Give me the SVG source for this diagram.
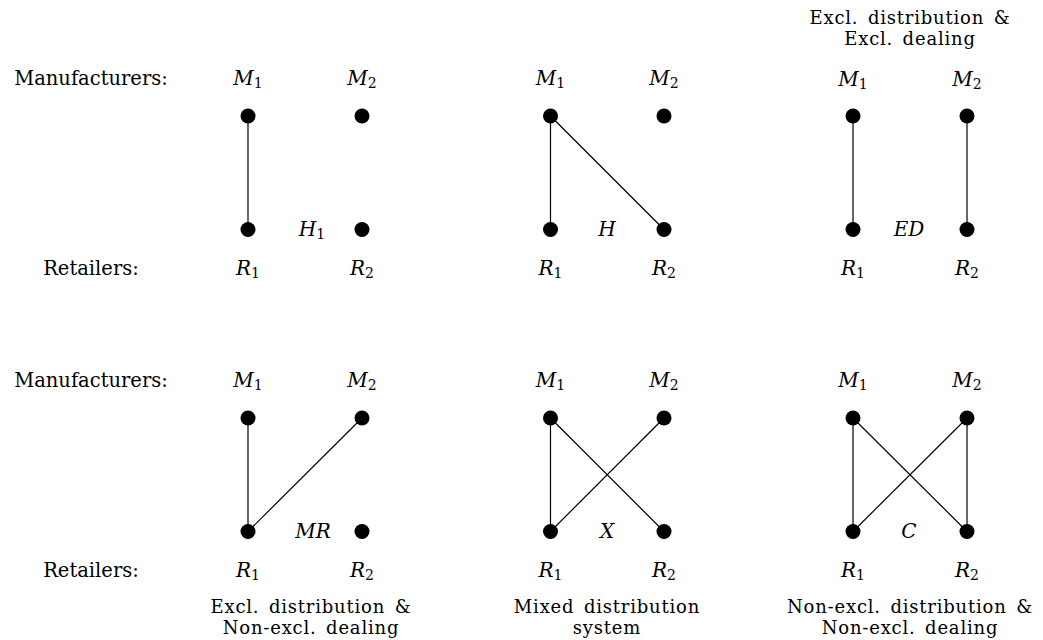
<svg xmlns="http://www.w3.org/2000/svg" width="1043" height="640" viewBox="0 0 1043 640">
<style>
  .t { font-family: "DejaVu Serif", "Liberation Serif", serif; font-size: 19.5px; fill: #000; text-anchor: middle; }
  .c { font-family: "DejaVu Serif", "Liberation Serif", serif; font-size: 18px; letter-spacing: 0.8px; word-spacing: 3px; fill: #000; text-anchor: middle; }
  .m { font-family: "DejaVu Serif", "Liberation Serif", serif; font-style: italic; font-size: 20px; fill: #000; text-anchor: middle; }
  .s { font-style: normal; font-size: 14px; }
  .e { stroke: #000; stroke-width: 1.2; fill: none; }
  .d { fill: #000; }
</style>
<rect width="1043" height="640" fill="#fff"/>

<g id="row-labels">
  <text class="t" x="91" y="85">Manufacturers:</text>
  <text class="t" x="91" y="275">Retailers:</text>
  <text class="t" x="91" y="387">Manufacturers:</text>
  <text class="t" x="91" y="577">Retailers:</text>
</g>

<g id="connectors">
  <line class="e" x1="248" y1="116" x2="248" y2="229.5"/>
  <line class="e" x1="550.5" y1="116" x2="550.5" y2="229.5"/>
  <line class="e" x1="550.5" y1="116" x2="664" y2="229.5"/>
  <line class="e" x1="853" y1="116" x2="853" y2="229.5"/>
  <line class="e" x1="967" y1="116" x2="967" y2="229.5"/>
  <line class="e" x1="248" y1="418" x2="248" y2="531.5"/>
  <line class="e" x1="362" y1="418" x2="248" y2="531.5"/>
  <line class="e" x1="550.5" y1="418" x2="550.5" y2="531.5"/>
  <line class="e" x1="550.5" y1="418" x2="664" y2="531.5"/>
  <line class="e" x1="664" y1="418" x2="550.5" y2="531.5"/>
  <line class="e" x1="853" y1="418" x2="853" y2="531.5"/>
  <line class="e" x1="853" y1="418" x2="967" y2="531.5"/>
  <line class="e" x1="967" y1="418" x2="853" y2="531.5"/>
  <line class="e" x1="967" y1="418" x2="967" y2="531.5"/>
</g>

<g id="panel-H1">
  <g id="H1-M1"><text class="m" x="248" y="85">M<tspan class="s" dy="3">1</tspan></text><circle class="d" cx="248" cy="116" r="7.5"/></g>
  <g id="H1-M2"><text class="m" x="362" y="85">M<tspan class="s" dy="3">2</tspan></text><circle class="d" cx="362" cy="116" r="7.5"/></g>
  <g id="H1-R1"><circle class="d" cx="248" cy="229.5" r="7.5"/><text class="m" x="248" y="275">R<tspan class="s" dy="3">1</tspan></text></g>
  <g id="H1-R2"><circle class="d" cx="362" cy="229.5" r="7.5"/><text class="m" x="362" y="275">R<tspan class="s" dy="3">2</tspan></text></g>
  <text class="m" x="312" y="236">H<tspan class="s" dy="3">1</tspan></text>
</g>

<g id="panel-H">
  <g id="H-M1"><text class="m" x="550.5" y="85">M<tspan class="s" dy="3">1</tspan></text><circle class="d" cx="550.5" cy="116" r="7.5"/></g>
  <g id="H-M2"><text class="m" x="664" y="85">M<tspan class="s" dy="3">2</tspan></text><circle class="d" cx="664" cy="116" r="7.5"/></g>
  <g id="H-R1"><circle class="d" cx="550.5" cy="229.5" r="7.5"/><text class="m" x="550.5" y="275">R<tspan class="s" dy="3">1</tspan></text></g>
  <g id="H-R2"><circle class="d" cx="664" cy="229.5" r="7.5"/><text class="m" x="664" y="275">R<tspan class="s" dy="3">2</tspan></text></g>
  <text class="m" x="607" y="236">H</text>
</g>

<g id="panel-ED">
  <text class="c" x="910" y="24">Excl. distribution &amp;</text>
  <text class="c" x="910" y="45">Excl. dealing</text>
  <g id="ED-M1"><text class="m" x="853" y="86">M<tspan class="s" dy="3">1</tspan></text><circle class="d" cx="853" cy="116" r="7.5"/></g>
  <g id="ED-M2"><text class="m" x="967" y="86">M<tspan class="s" dy="3">2</tspan></text><circle class="d" cx="967" cy="116" r="7.5"/></g>
  <g id="ED-R1"><circle class="d" cx="853" cy="229.5" r="7.5"/><text class="m" x="853" y="275">R<tspan class="s" dy="3">1</tspan></text></g>
  <g id="ED-R2"><circle class="d" cx="967" cy="229.5" r="7.5"/><text class="m" x="967" y="275">R<tspan class="s" dy="3">2</tspan></text></g>
  <text class="m" x="909" y="236">ED</text>
</g>

<g id="panel-MR">
  <g id="MR-M1"><text class="m" x="248" y="387">M<tspan class="s" dy="3">1</tspan></text><circle class="d" cx="248" cy="418" r="7.5"/></g>
  <g id="MR-M2"><text class="m" x="362" y="387">M<tspan class="s" dy="3">2</tspan></text><circle class="d" cx="362" cy="418" r="7.5"/></g>
  <g id="MR-R1"><circle class="d" cx="248" cy="531.5" r="7.5"/><text class="m" x="248" y="577">R<tspan class="s" dy="3">1</tspan></text></g>
  <g id="MR-R2"><circle class="d" cx="362" cy="531.5" r="7.5"/><text class="m" x="362" y="577">R<tspan class="s" dy="3">2</tspan></text></g>
  <text class="m" x="313" y="538">MR</text>
  <text class="c" x="311" y="613">Excl. distribution &amp;</text>
  <text class="c" x="311" y="634">Non-excl. dealing</text>
</g>

<g id="panel-X">
  <g id="X-M1"><text class="m" x="550.5" y="387">M<tspan class="s" dy="3">1</tspan></text><circle class="d" cx="550.5" cy="418" r="7.5"/></g>
  <g id="X-M2"><text class="m" x="664" y="387">M<tspan class="s" dy="3">2</tspan></text><circle class="d" cx="664" cy="418" r="7.5"/></g>
  <g id="X-R1"><circle class="d" cx="550.5" cy="531.5" r="7.5"/><text class="m" x="550.5" y="577">R<tspan class="s" dy="3">1</tspan></text></g>
  <g id="X-R2"><circle class="d" cx="664" cy="531.5" r="7.5"/><text class="m" x="664" y="577">R<tspan class="s" dy="3">2</tspan></text></g>
  <text class="m" x="607" y="538">X</text>
  <text class="c" x="607" y="613">Mixed distribution</text>
  <text class="c" x="607" y="634">system</text>
</g>

<g id="panel-C">
  <g id="C-M1"><text class="m" x="853" y="387">M<tspan class="s" dy="3">1</tspan></text><circle class="d" cx="853" cy="418" r="7.5"/></g>
  <g id="C-M2"><text class="m" x="967" y="387">M<tspan class="s" dy="3">2</tspan></text><circle class="d" cx="967" cy="418" r="7.5"/></g>
  <g id="C-R1"><circle class="d" cx="853" cy="531.5" r="7.5"/><text class="m" x="853" y="577">R<tspan class="s" dy="3">1</tspan></text></g>
  <g id="C-R2"><circle class="d" cx="967" cy="531.5" r="7.5"/><text class="m" x="967" y="577">R<tspan class="s" dy="3">2</tspan></text></g>
  <text class="m" x="909" y="538">C</text>
  <text class="c" x="910" y="613">Non-excl. distribution &amp;</text>
  <text class="c" x="910" y="634">Non-excl. dealing</text>
</g>
</svg>
